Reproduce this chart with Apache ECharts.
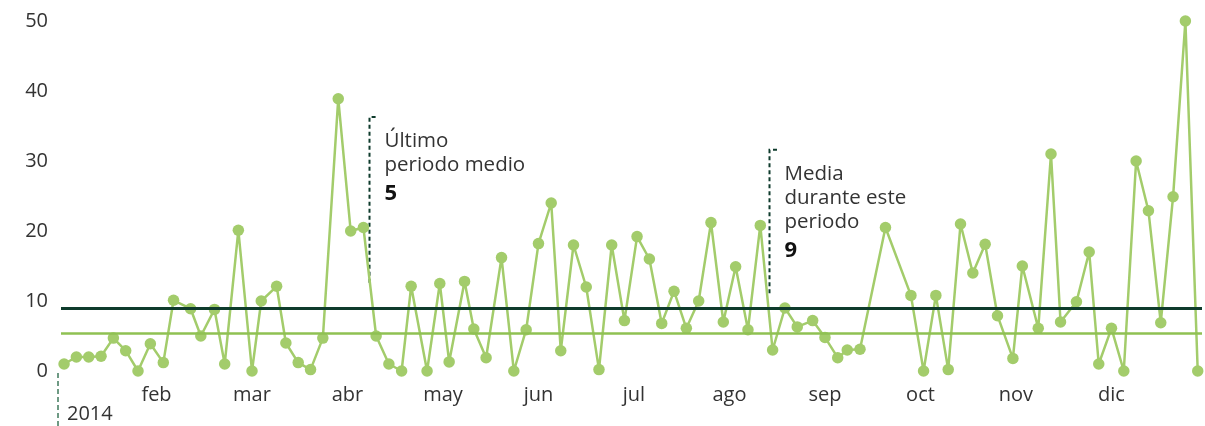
<!DOCTYPE html>
<html>
<head>
<meta charset="utf-8">
<script src="https://cdn.jsdelivr.net/npm/echarts@6/dist/echarts.min.js"></script>
<style>
  html, body { margin: 0; padding: 0; background: #fff; }
  #chart { width: 1205px; height: 426px; }
</style>
</head>
<body>
<div id="chart"></div>
<script>
var year = 2014
var monthLabels = ['', 'feb', 'mar', 'abr', 'may', 'jun', 'jul', 'ago', 'sep', 'oct', 'nov', 'dic']
var dates = [
  '01-02', '01-06', '01-10', '01-14', '01-18', '01-22', '01-26', '01-30',
  '02-03', '02-06', '02-11', '02-14', '02-18', '02-21', '02-25',
  '03-01', '03-04', '03-09', '03-12', '03-16', '03-20', '03-24', '03-29',
  '04-02', '04-06', '04-10', '04-14', '04-18', '04-21', '04-26', '04-30',
  '05-03', '05-08', '05-11', '05-15', '05-20', '05-24', '05-28',
  '06-01', '06-05', '06-08', '06-12', '06-16', '06-20', '06-24', '06-28',
  '07-02', '07-06', '07-10', '07-14', '07-18', '07-22', '07-26', '07-30',
  '08-03', '08-07', '08-11', '08-15', '08-19', '08-23', '08-28',
  '09-01', '09-05', '09-08', '09-12', '09-20', '09-28',
  '10-02', '10-06', '10-10', '10-14', '10-18', '10-22', '10-26', '10-31',
  '11-03', '11-08', '11-12', '11-15', '11-20', '11-24', '11-27',
  '12-01', '12-05', '12-09', '12-13', '12-17', '12-21', '12-25', '12-29'
]
var values = [
  1.0, 2.0, 2.0, 2.1, 4.7, 2.9, 0, 3.9,
  1.2, 10.1, 8.9, 5.0, 8.8, 1.0, 20.1,
  0, 10.0, 12.1, 4.0, 1.2, 0.2, 4.7, 38.9,
  20.0, 20.5, 5.0, 1.0, 0, 12.1, 0, 12.5,
  1.3, 12.8, 6.0, 1.9, 16.2, 0, 5.9,
  18.2, 24.0, 2.9, 18.0, 12.0, 0.2, 18.0, 7.2,
  19.2, 16.0, 6.8, 11.4, 6.1, 10.0, 21.2, 7.0,
  14.9, 5.9, 20.8, 3.0, 9.0, 6.3, 7.2,
  4.8, 1.9, 3.0, 3.1, 20.5, 10.8,
  0, 10.8, 0.2, 21.0, 14.0, 18.1, 7.9, 1.8,
  15.0, 6.1, 31.0, 7.0, 9.9, 17.0, 1.0,
  6.1, 0, 30.0, 22.9, 6.9, 24.9, 50, 0
]
// medias: periodo completo y ultimo periodo
var meanAll = 9
var meanLast = 5.4
// anotaciones: fecha, valor arriba, valor abajo, textos
var noteDates = ['04-08', '08-14']
var noteTop = [36.3, 31.6]
var noteBottom = [12.6, 11.1]
var noteLines = [['Último', 'periodo medio'], ['Media', 'durante este', 'periodo']]
var noteNumbers = ['5', '9']

var FONT = '"Open Sans", "Noto Sans", sans-serif'
var TEXT = '#333333'

// fecha -> posicion en meses (cada mes el mismo ancho)
function monthPos(str) {
  var m = parseInt(str.split('-')[0], 10)
  var d = parseInt(str.split('-')[1], 10)
  var days = new Date(year, m, 0).getDate()
  return (m - 1) + (d - 1) / days
}

var seriesData = dates.map(function(d, i) {
  return [monthPos(d), values[i]]
})

var chart = echarts.init(document.getElementById('chart'), null, { renderer: 'canvas' })

chart.setOption({
  animation: false,
  grid: { left: 61, right: 0, top: 21, bottom: 55 },
  xAxis: {
    type: 'value',
    min: 0,
    max: 11.948,
    interval: 1,
    axisLine: { show: false },
    axisTick: { show: false },
    splitLine: { show: false },
    axisLabel: {
      color: TEXT,
      fontSize: 20,
      fontFamily: FONT,
      margin: 14,
      formatter: function(v) {
        return Number.isInteger(v) ? (monthLabels[v] || '') : ''
      }
    }
  },
  yAxis: {
    type: 'value',
    min: 0,
    max: 50,
    interval: 10,
    axisLine: { show: false },
    axisTick: { show: false },
    splitLine: { show: false },
    axisLabel: { color: TEXT, fontSize: 20, fontFamily: FONT, margin: 13 }
  },
  series: [
    {
      type: 'line',
      data: [],
      z: 1,
      markLine: {
        silent: true,
        symbol: ['none', 'none'],
        label: { show: false },
        data: [
          { yAxis: meanAll, lineStyle: { color: '#0e3b2c', width: 3, type: 'solid' } },
          { yAxis: meanLast, lineStyle: { color: '#8fc152', width: 2.5, type: 'solid' } }
        ]
      }
    },
    {
      type: 'line',
      data: seriesData,
      z: 3,
      symbol: 'circle',
      symbolSize: 11.5,
      showAllSymbol: true,
      itemStyle: { color: '#a3cc6b' },
      lineStyle: { color: '#a3cc6b', width: 2.5 }
    }
  ]
})

// anotaciones y marca del año
var graphics = []
var p0 = chart.convertToPixel({ xAxisIndex: 0, yAxisIndex: 0 }, [0, 0])
graphics.push({
  type: 'line',
  silent: true,
  shape: { x1: p0[0] - 3, y1: p0[1] + 2, x2: p0[0] - 3, y2: 426 },
  style: { stroke: '#3f7a5c', lineWidth: 1.5, lineDash: [5, 3] }
})
graphics.push({
  type: 'text',
  silent: true,
  style: { x: p0[0] + 6, y: p0[1] + 43, text: String(year), font: '20px ' + FONT, fill: TEXT, verticalAlign: 'middle' }
})

noteDates.forEach(function(d, i) {
  var top = chart.convertToPixel({ xAxisIndex: 0, yAxisIndex: 0 }, [monthPos(d), noteTop[i]])
  var bottom = chart.convertToPixel({ xAxisIndex: 0, yAxisIndex: 0 }, [monthPos(d), noteBottom[i]])
  var x = Math.round(top[0]) - 0.5
  graphics.push({
    type: 'polyline',
    silent: true,
    shape: { points: [[x, bottom[1]], [x, top[1]], [x + 9, top[1]]] },
    style: { stroke: '#0e3b2c', lineWidth: 2, lineDash: [4, 3], fill: null }
  })
  var ty = top[1] + 24
  noteLines[i].forEach(function(t, k) {
    graphics.push({
      type: 'text',
      silent: true,
      style: { x: x + 15, y: ty + k * 24, text: t, font: '20.5px ' + FONT, fill: TEXT, verticalAlign: 'middle' }
    })
  })
  graphics.push({
    type: 'text',
    silent: true,
    style: {
      x: x + 15, y: ty + (noteLines[i].length - 1) * 24 + 29, text: noteNumbers[i],
      font: 'bold 22px ' + FONT, fill: '#111111', verticalAlign: 'middle'
    }
  })
})

chart.setOption({ graphic: graphics })
</script>
</body>
</html>
